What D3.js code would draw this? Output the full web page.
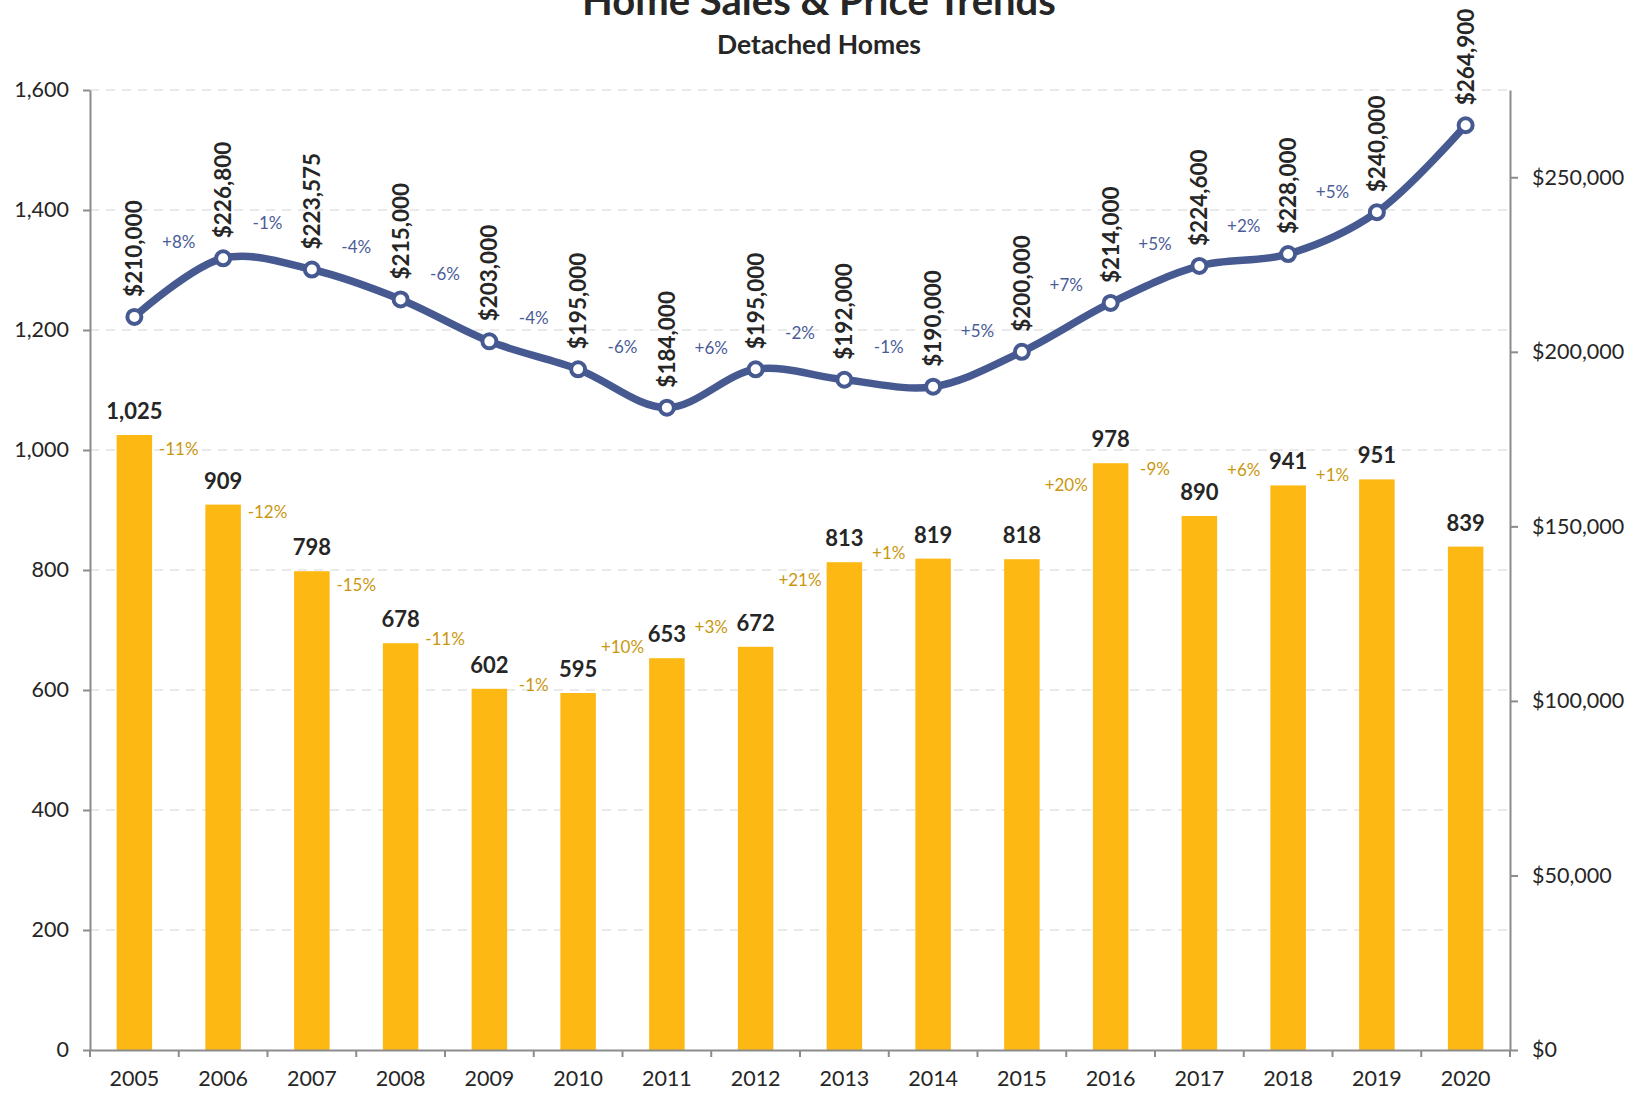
<!DOCTYPE html>
<html>
<head>
<meta charset="utf-8">
<script src="https://cdn.jsdelivr.net/npm/d3@7"></script>
<style>
    body { margin: 0; background: #fff; }
    text { font-family: Lato, "Noto Sans", sans-serif; fill: #262626; }
</style>
</head>
<body>
<div id="chart-Div"></div>
<script>

let years = ['2005', '2006', '2007', '2008', '2009', '2010', '2011', '2012',
    '2013', '2014', '2015', '2016', '2017', '2018', '2019', '2020'];

let sales = [1025, 909, 798, 678, 602, 595, 653, 672, 813, 819, 818, 978, 890, 941, 951, 839];

let prices = [210000, 226800, 223575, 215000, 203000, 195000, 184000, 195000,
    192000, 190000, 200000, 214000, 224600, 228000, 240000, 264900];

// year-over-year change labels, shown between two years ('' = not shown)
let salesChange = ['-11%', '-12%', '-15%', '-11%', '-1%', '+10%', '+3%', '+21%',
    '+1%', '', '+20%', '-9%', '+6%', '+1%', ''];
// height (in sales units) where each sales change label sits
let salesChangeAt = [1002, 897, 775, 685, 608, 672, 705, 783, 828, 0, 942, 968, 967, 958, 0];

let priceChange = ['+8%', '-1%', '-4%', '-6%', '-4%', '-6%', '+6%', '-2%',
    '-1%', '+5%', '+7%', '+5%', '+2%', '+5%', ''];
// height (in price units) where each price change label sits
let priceChangeAt = [231500, 236900, 230000, 222300, 209700, 201400, 201100, 205400,
    201400, 206000, 219000, 231000, 236000, 245800, 0];

let leftTicks = [0, 200, 400, 600, 800, 1000, 1200, 1400, 1600];
let rightTicks = [0, 50000, 100000, 150000, 200000, 250000];

let width = 1638, height = 1102;
let plotLeft = 90, plotRight = 1510, plotTop = 90, plotBottom = 1050;

let barColor = '#FDB813';
let lineColor = '#465A91';
let axisColor = '#8C8C8C';

let svg = d3.select('#chart-Div')
    .append('svg')
    .attr('width', width)
    .attr('height', height);

// Scales
let xScale = d3.scaleBand()
    .domain(years)
    .range([plotLeft, plotRight])
    .paddingInner(0.6)
    .paddingOuter(0.3);

let ySales = d3.scaleLinear()
    .domain([0, 1600])
    .range([plotBottom, plotTop]);

let yPrice = d3.scaleLinear()
    .domain([0, 275000])
    .range([plotBottom, plotTop]);

let xMid = (d) => xScale(d) + xScale.bandwidth() / 2;

// Gridlines
svg.append('g')
    .selectAll('line')
    .data(leftTicks.filter(d => d > 0))
    .join('line')
    .attr('x1', plotLeft)
    .attr('x2', plotRight)
    .attr('y1', d => ySales(d))
    .attr('y2', d => ySales(d))
    .attr('stroke', '#E3E3E3')
    .attr('stroke-width', 1.5)
    .attr('stroke-dasharray', '9,7');

// Bars
svg.append('g')
    .selectAll('rect')
    .data(sales)
    .join('rect')
    .attr('x', (d, i) => xScale(years[i]))
    .attr('y', d => ySales(d))
    .attr('width', xScale.bandwidth())
    .attr('height', d => plotBottom - ySales(d))
    .attr('fill', barColor);

// Bar value labels
svg.append('g')
    .selectAll('text')
    .data(sales)
    .join('text')
    .attr('x', (d, i) => xMid(years[i]))
    .attr('y', d => ySales(d) - 16)
    .attr('text-anchor', 'middle')
    .attr('font-size', 22)
    .attr('font-weight', 'bold')
    .text(d => d3.format(',')(d));

// Sales change labels
svg.append('g')
    .selectAll('text')
    .data(salesChange)
    .join('text')
    .attr('x', (d, i) => (xMid(years[i]) + xMid(years[i + 1])) / 2)
    .attr('y', (d, i) => ySales(salesChangeAt[i]))
    .attr('dy', '0.35em')
    .attr('text-anchor', 'middle')
    .attr('font-size', 17)
    .style('fill', '#C9970E')
    .text(d => d);

// Price line
let lineGen = d3.line()
    .x((d, i) => xMid(years[i]))
    .y(d => yPrice(d))
    .curve(d3.curveCatmullRom.alpha(0.5));

svg.append('path')
    .attr('d', lineGen(prices))
    .attr('fill', 'none')
    .attr('stroke', lineColor)
    .attr('stroke-width', 7.5)
    .attr('stroke-linecap', 'round');

svg.append('g')
    .selectAll('circle')
    .data(prices)
    .join('circle')
    .attr('cx', (d, i) => xMid(years[i]))
    .attr('cy', d => yPrice(d))
    .attr('r', 7)
    .attr('fill', '#fff')
    .attr('stroke', lineColor)
    .attr('stroke-width', 4);

// Price value labels, rotated
svg.append('g')
    .selectAll('text')
    .data(prices)
    .join('text')
    .attr('transform', (d, i) => `translate(${xMid(years[i])},${yPrice(d) - 20}) rotate(-90)`)
    .attr('dy', '0.36em')
    .attr('font-size', 22.5)
    .attr('font-weight', 'bold')
    .text(d => d3.format('$,')(d));

// Price change labels
svg.append('g')
    .selectAll('text')
    .data(priceChange)
    .join('text')
    .attr('x', (d, i) => (xMid(years[i]) + xMid(years[i + 1])) / 2)
    .attr('y', (d, i) => yPrice(priceChangeAt[i]))
    .attr('dy', '0.35em')
    .attr('text-anchor', 'middle')
    .attr('font-size', 17)
    .style('fill', '#4A5C98')
    .text(d => d);

// Axes
let leftAxis = svg.append('g')
    .attr('transform', `translate(${plotLeft},0)`)
    .call(d3.axisLeft(ySales).tickValues(leftTicks).tickSize(7).tickSizeOuter(0)
        .tickPadding(14).tickFormat(d3.format(',')));

let rightAxis = svg.append('g')
    .attr('transform', `translate(${plotRight},0)`)
    .call(d3.axisRight(yPrice).tickValues(rightTicks).tickSize(8).tickSizeOuter(0)
        .tickPadding(14).tickFormat(d3.format('$,')));

let bottomAxis = svg.append('g')
    .attr('transform', `translate(0,${plotBottom})`)
    .call(d3.axisBottom(xScale).tickSize(0).tickSizeOuter(0).tickPadding(21));

// x ticks sit between the years
bottomAxis.selectAll('.sep')
    .data(d3.range(years.length + 1))
    .join('line')
    .attr('class', 'sep')
    .attr('x1', i => plotLeft + i * xScale.step())
    .attr('x2', i => plotLeft + i * xScale.step())
    .attr('y1', 0)
    .attr('y2', 7);

[leftAxis, rightAxis, bottomAxis].forEach(ax => {
    ax.select('.domain').attr('stroke', axisColor).attr('stroke-width', 2);
    ax.selectAll('line').attr('stroke', axisColor).attr('stroke-width', 2);
    ax.selectAll('text')
        .attr('font-size', 21.5)
        .attr('font-family', 'Lato, "Noto Sans", sans-serif')
        .style('fill', '#262626');
});

// Titles
svg.append('text')
    .attr('x', 819)
    .attr('y', 15)
    .attr('text-anchor', 'middle')
    .attr('font-size', 40)
    .attr('font-weight', 'bold')
    .text('Home Sales & Price Trends');

svg.append('text')
    .attr('x', 819)
    .attr('y', 54)
    .attr('text-anchor', 'middle')
    .attr('font-size', 26.5)
    .attr('font-weight', 'bold')
    .text('Detached Homes');

</script>
</body>
</html>
